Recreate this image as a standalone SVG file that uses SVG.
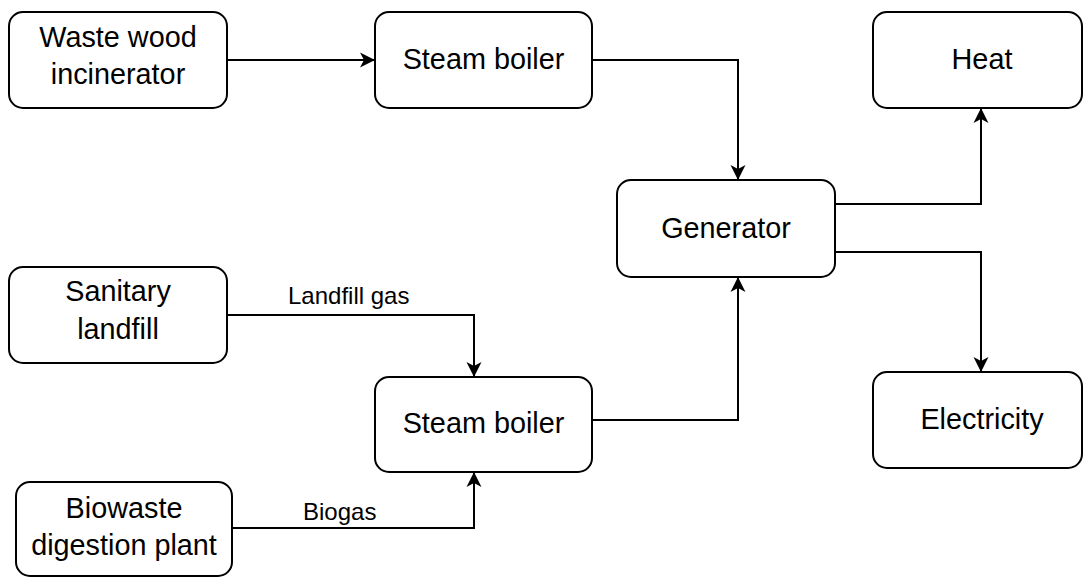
<svg xmlns="http://www.w3.org/2000/svg" width="1083" height="577" viewBox="0 0 1083 577">
<style>
.box{fill:#fff;stroke:#000;stroke-width:2}
.t{font-family:"Liberation Sans",Arial,sans-serif;font-size:28.8px;fill:#000;text-anchor:middle}
.lbl{font-family:"Liberation Sans",Arial,sans-serif;font-size:24px;fill:#000}
.c{fill:none;stroke:#000;stroke-width:2;marker-end:url(#arr)}
</style>
<defs>
<marker id="arr" markerUnits="userSpaceOnUse" markerWidth="16" markerHeight="16" refX="15" refY="8" orient="auto">
<path d="M0,0.5 L15,8 L0,15.5 L4,8 Z" fill="#000"/>
</marker>
</defs>
<rect width="1083" height="577" fill="#fff"/>
<g id="connectors">
<path class="c" d="M227,60 H375"/>
<path class="c" d="M592,60 H738 V180"/>
<path class="c" d="M835,204 H981 V108"/>
<path class="c" d="M835,252 H981 V372"/>
<path class="c" d="M227,315 H474 V377"/>
<path class="c" d="M232,528 H474 V472"/>
<path class="c" d="M592,420 H738 V277"/>
<text class="lbl" x="288" y="304">Landfill gas</text>
<text class="lbl" x="303" y="520">Biogas</text>
</g>
<g id="waste-wood">
<rect class="box" x="9" y="12" width="218" height="96" rx="14"/>
<text class="t" x="118" y="47">Waste wood</text>
<text class="t" x="118" y="84">incinerator</text>
</g>
<g id="steam-boiler-1">
<rect class="box" x="375" y="12" width="217" height="96" rx="14"/>
<text class="t" x="483.5" y="69">Steam boiler</text>
</g>
<g id="heat">
<rect class="box" x="873" y="12" width="209" height="96" rx="14"/>
<text class="t" x="982" y="69">Heat</text>
</g>
<g id="generator">
<rect class="box" x="617" y="180" width="218" height="97" rx="14"/>
<text class="t" x="726" y="238">Generator</text>
</g>
<g id="sanitary-landfill">
<rect class="box" x="9" y="267" width="218" height="96" rx="14"/>
<text class="t" x="118" y="301">Sanitary</text>
<text class="t" x="118" y="339">landfill</text>
</g>
<g id="steam-boiler-2">
<rect class="box" x="375" y="377" width="217" height="95" rx="14"/>
<text class="t" x="483.5" y="433">Steam boiler</text>
</g>
<g id="electricity">
<rect class="box" x="873" y="372" width="209" height="96" rx="14"/>
<text class="t" x="982" y="429">Electricity</text>
</g>
<g id="biowaste">
<rect class="box" x="16" y="482" width="216" height="94" rx="14"/>
<text class="t" x="124" y="518">Biowaste</text>
<text class="t" x="124" y="555">digestion plant</text>
</g>
</svg>
